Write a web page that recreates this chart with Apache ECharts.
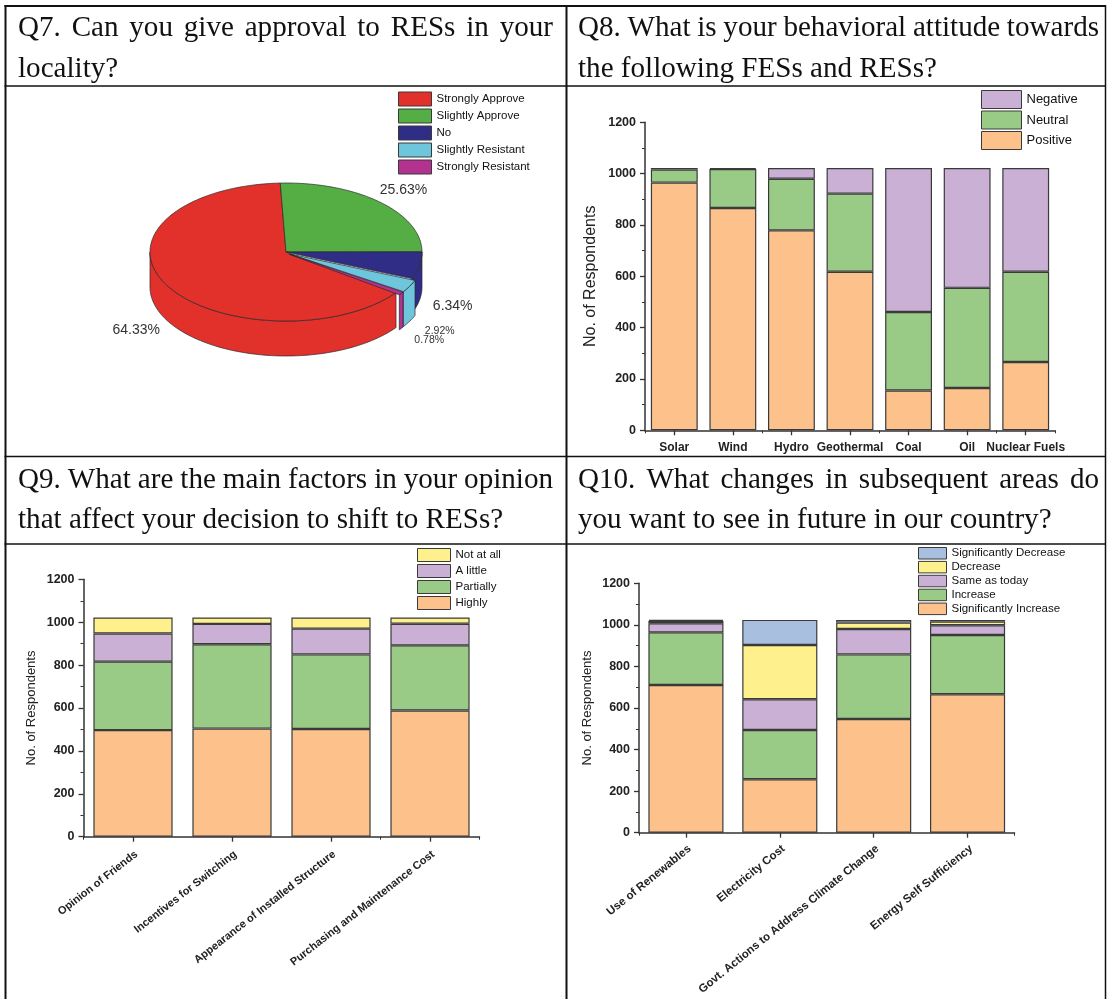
<!DOCTYPE html>
<html>
<head>
<meta charset="utf-8">
<title>Survey responses Q7-Q10</title>
<script src="https://cdn.jsdelivr.net/npm/echarts@6/dist/echarts.min.js"></script>
<style>
  html, body { margin: 0; padding: 0; background: #fff; }
  #c { width: 1107px; height: 999px; }
</style>
</head>
<body>
<div id="c"></div>
<script>
// ---------- question texts (two lines per cell) ----------
const questionLines = [
  ['Q7. Can you give approval to RESs in your', 'locality?'],
  ['Q8. What is your behavioral attitude towards', 'the following FESs and RESs?'],
  ['Q9. What are the main factors in your opinion', 'that affect your decision to shift to RESs?'],
  ['Q10. What changes in subsequent areas do', 'you want to see in future in our country?']
];

// ---------- Q7: approval of RESs (percent) ----------
const approvalNames = ['Strongly Approve', 'Slightly Approve', 'No', 'Slightly Resistant', 'Strongly Resistant'];
const approvalPct = [64.33, 25.63, 6.34, 2.92, 0.78];

// ---------- Q8: attitude towards FESs and RESs ----------
const energySources = ['Solar', 'Wind', 'Hydro', 'Geothermal', 'Coal', 'Oil', 'Nuclear Fuels'];
const attitudePositive = [965, 866, 779, 618, 155, 165, 266];
const attitudeNeutral  = [51, 152, 201, 304, 306, 390, 352];
const attitudeNegative = [6, 4, 42, 100, 561, 467, 404];

// ---------- Q9: factors affecting the decision ----------
const factors = ['Opinion of Friends', 'Incentives for Switching', 'Appearance of Installed Structure', 'Purchasing and Maintenance Cost'];
const factorHighly    = [497, 504, 502, 588];
const factorPartially = [319, 393, 348, 304];
const factorLittle    = [131, 95, 120, 101];
const factorNotAtAll  = [75, 30, 52, 29];

// ---------- Q10: desired changes ----------
const areas = ['Use of Renewables', 'Electricity Cost', 'Govt. Actions to Address Climate Change', 'Energy Self Sufficiency'];
const changeSigIncrease = [711, 257, 547, 666];
const changeIncrease    = [253, 237, 311, 285];
const changeSame        = [44, 148, 122, 47];
const changeDecrease    = [11, 261, 31, 18];
const changeSigDecrease = [5, 121, 13, 8];

// ---------- value axis ----------
const countMin = 0, countMax = 1200, countStep = 200;

// ---------- styling ----------
const FONT = '"Liberation Sans", Arial, Helvetica, sans-serif';
const SERIF = '"Liberation Serif", "Times New Roman", serif';
const INK = '#222';
const EDGE = '#3a3a3a';
const C_ORANGE = '#FDC28C', C_GREEN = '#9ACB86', C_LILAC = '#CAB0D4', C_YELLOW = '#FEF18D', C_BLUE = '#A9BFE0';
const approvalColors = ['#E2302B', '#55AE43', '#2F2D86', '#6EC6DD', '#B3318F'];

const sum = a => a.reduce((s, v) => s + v, 0);

// ---------- table frame and justified question headers ----------
const HEAD_SIZE = 30, HEAD_SX = 0.97;
const measureCtx = document.createElement('canvas').getContext('2d');
measureCtx.font = HEAD_SIZE + 'px ' + SERIF;

function headerLine(text, x0, x1, baseline, justify) {
  const words = text.split(' ');
  const widths = words.map(w => measureCtx.measureText(w).width * HEAD_SX);
  let gap = measureCtx.measureText(' ').width * HEAD_SX;
  if (justify && words.length > 1) gap = (x1 - x0 - sum(widths)) / (words.length - 1);
  const yMid = baseline - HEAD_SIZE * 0.34;
  let x = x0;
  return words.map((w, i) => {
    const el = {
      type: 'text', x: x, y: yMid, scaleX: HEAD_SX, silent: true,
      style: { text: w, fontSize: HEAD_SIZE, fontFamily: SERIF, fill: '#111', align: 'left', verticalAlign: 'middle' }
    };
    x += widths[i] + gap;
    return el;
  });
}

const cells = [
  { x0: 18, x1: 553, b1: 38, b2: 79 },
  { x0: 578, x1: 1099, b1: 38, b2: 79 },
  { x0: 18, x1: 553, b1: 490, b2: 530 },
  { x0: 578, x1: 1099, b1: 490, b2: 530 }
];
const headerEls = [];
questionLines.forEach((lines, i) => {
  const c = cells[i];
  headerEls.push(...headerLine(lines[0], c.x0, c.x1, c.b1, true));
  headerEls.push(...headerLine(lines[1], c.x0, c.x1, c.b2, false));
});

function rule(x1, y1, x2, y2, w) {
  return { type: 'line', silent: true, shape: { x1, y1, x2, y2 }, style: { stroke: '#111', lineWidth: w } };
}
const frameEls = [
  rule(4.5, 6, 1106, 6, 2),
  rule(5.5, 5, 5.5, 999, 2),
  rule(566.5, 5, 566.5, 999, 2),
  rule(1105.5, 5, 1105.5, 999, 1.5),
  rule(4.5, 86, 1106, 86, 1.6),
  rule(4.5, 456.5, 1106, 456.5, 1.6),
  rule(4.5, 544, 1106, 544, 1.6)
];

// ---------- Q7 pseudo-3D pie (custom series, one per slice) ----------
const PIE = { cx: 286, cy: 252, rx: 136, ry: 69, depth: 35, startDeg: 324, pull: 4 };
const pulledSlices = ['Slightly Resistant', 'Strongly Resistant'];
const pctTotal = sum(approvalPct);

function ellipsePt(t, ox, oy, dz) {
  return [PIE.cx + ox + PIE.rx * Math.cos(t), PIE.cy + oy - PIE.ry * Math.sin(t) + dz];
}
function arcPts(ta, tb, ox, oy, dz) {
  const n = Math.max(2, Math.ceil(Math.abs(ta - tb) / (Math.PI / 120)));
  const pts = [];
  for (let k = 0; k <= n; k++) pts.push(ellipsePt(ta + (tb - ta) * k / n, ox, oy, dz));
  return pts;
}
function sliceRenderer(i) {
  return function (params, api) {
    const value = api.value(0);
    const before = sum(approvalPct.slice(0, i));
    const t0 = (PIE.startDeg - before / pctTotal * 360) * Math.PI / 180;
    const t1 = t0 - value / pctTotal * 2 * Math.PI;
    const mid = (t0 + t1) / 2;
    const off = pulledSlices.includes(approvalNames[i]) ? PIE.pull : 0;
    const ox = off * Math.cos(mid), oy = -off * Math.sin(mid);
    const color = api.visual('color');
    const edge = { stroke: '#2a2a2a', lineWidth: 0.7 };
    const children = [];
    // visible front wall (lower half of the ellipse)
    for (let k = -2; k <= 1; k++) {
      const lo = Math.max(t1, -Math.PI + 2 * Math.PI * k);
      const hi = Math.min(t0, 2 * Math.PI * k);
      if (hi - lo > 1e-6) {
        const pts = arcPts(hi, lo, ox, oy, 0).concat(arcPts(lo, hi, ox, oy, PIE.depth));
        children.push({ type: 'polygon', z2: 1, shape: { points: pts }, style: Object.assign({ fill: color }, edge) });
      }
    }
    // top face
    const top = [[PIE.cx + ox, PIE.cy + oy]].concat(arcPts(t0, t1, ox, oy, 0));
    children.push({ type: 'polygon', z2: 2, shape: { points: top }, style: Object.assign({ fill: color }, edge) });
    // percentage label
    const front = Math.sin(mid) < 0;
    const lx = PIE.cx + ox + PIE.rx * 1.25 * Math.cos(mid);
    const ly = PIE.cy + oy - PIE.ry * 1.25 * Math.sin(mid) + (front ? PIE.depth + 2 : 0);
    const small = value < 5;
    children.push({
      type: 'text', z2: 3, x: lx, y: ly,
      style: { text: value.toFixed(2) + '%', fill: '#333', fontFamily: FONT, fontSize: small ? 10.5 : 14, align: 'center', verticalAlign: 'middle' }
    });
    return { type: 'group', children };
  };
}
const pieSeries = approvalNames.map((name, i) => ({
  type: 'custom', name, coordinateSystem: 'none', silent: true,
  renderItem: sliceRenderer(i),
  data: [approvalPct[i]],
  itemStyle: { color: approvalColors[i], borderColor: '#333', borderWidth: 1 }
}));

// ---------- bar charts ----------
function barSeries(name, values, color, axis, stack) {
  return {
    type: 'bar', name, data: values, stack, xAxisIndex: axis.x, yAxisIndex: axis.y,
    barWidth: '80%', silent: true,
    itemStyle: { color, borderColor: EDGE, borderWidth: 1.2 },
    emphasis: { disabled: true }
  };
}
function catAxis(gridIndex, data, labelSize, rotate, margin) {
  return {
    type: 'category', gridIndex, data, position: 'bottom',
    axisLine: { show: true, lineStyle: { color: '#333', width: 1.5 } },
    axisTick: { show: true, alignWithLabel: true, length: 5, lineStyle: { color: '#333', width: 1.3 } },
    axisLabel: Object.assign(
      { interval: 0, rotate, margin, fontFamily: FONT, fontWeight: 'bold', fontSize: labelSize, color: INK },
      rotate ? { verticalAlign: 'top' } : {}
    ),
    splitLine: { show: false }
  };
}
function boundaryAxis(gridIndex, data) {
  return {
    type: 'category', gridIndex, data, position: 'bottom',
    axisLine: { show: false },
    axisTick: { show: true, alignWithLabel: false, length: 3, lineStyle: { color: '#333', width: 1 } },
    axisLabel: { show: false },
    splitLine: { show: false }
  };
}
function countAxis(gridIndex, nameSize, nameGap) {
  return {
    type: 'value', gridIndex, min: countMin, max: countMax, interval: countStep,
    name: 'No. of Respondents', nameLocation: 'middle', nameGap,
    nameTextStyle: { fontFamily: FONT, fontSize: nameSize, color: INK },
    axisLine: { show: true, lineStyle: { color: '#333', width: 1.5 } },
    axisTick: { show: true, length: 5, lineStyle: { color: '#333', width: 1.3 } },
    minorTick: { show: true, splitNumber: 2, length: 3, lineStyle: { color: '#333', width: 1 } },
    splitLine: { show: false },
    axisLabel: { margin: 9, fontFamily: FONT, fontWeight: 'bold', fontSize: 12.5, color: INK, formatter: v => String(v) }
  };
}
function legendBox(data, left, top, w, h, gap, size) {
  return {
    data, left, top, orient: 'vertical', icon: 'rect', padding: 0,
    itemWidth: w, itemHeight: h, itemGap: gap, itemTextGap: 5, selectedMode: false,
    itemStyle: { borderColor: EDGE, borderWidth: 1 },
    textStyle: { fontFamily: FONT, fontSize: size, color: '#111', lineHeight: h }
  };
}

const A8 = { x: 0, y: 0 }, A9 = { x: 2, y: 1 }, A10 = { x: 4, y: 2 };

const option = {
  animation: false,
  backgroundColor: '#fff',
  grid: [
    { left: 645, top: 122.3, width: 410, height: 308 },
    { left: 83.5, top: 579.3, width: 396, height: 257.4 },
    { left: 639, top: 583.3, width: 375.5, height: 249.4 }
  ],
  xAxis: [
    catAxis(0, energySources, 12, 0, 11), boundaryAxis(0, energySources),
    catAxis(1, factors, 11, 38, 12), boundaryAxis(1, factors),
    catAxis(2, areas, 11.5, 39, 10), boundaryAxis(2, areas)
  ],
  yAxis: [
    countAxis(0, 16, 46),
    countAxis(1, 13, 46),
    countAxis(2, 13, 45)
  ],
  legend: [
    legendBox(approvalNames, 398, 91.5, 33, 14, 2, 11.5),
    legendBox(['Negative', 'Neutral', 'Positive'], 981, 90, 40, 18, 1.5, 13),
    legendBox(['Not at all', 'A little', 'Partially', 'Highly'], 417, 548, 33, 13, 2, 11.5),
    legendBox(['Significantly Decrease', 'Decrease', 'Same as today', 'Increase', 'Significantly Increase'], 918, 547, 28, 11.5, 1.4, 11.5)
  ],
  graphic: { elements: frameEls.concat(headerEls) },
  series: pieSeries.concat([
    barSeries('Positive', attitudePositive, C_ORANGE, A8, 'q8'),
    barSeries('Neutral', attitudeNeutral, C_GREEN, A8, 'q8'),
    barSeries('Negative', attitudeNegative, C_LILAC, A8, 'q8'),

    barSeries('Highly', factorHighly, C_ORANGE, A9, 'q9'),
    barSeries('Partially', factorPartially, C_GREEN, A9, 'q9'),
    barSeries('A little', factorLittle, C_LILAC, A9, 'q9'),
    barSeries('Not at all', factorNotAtAll, C_YELLOW, A9, 'q9'),

    barSeries('Significantly Increase', changeSigIncrease, C_ORANGE, A10, 'q10'),
    barSeries('Increase', changeIncrease, C_GREEN, A10, 'q10'),
    barSeries('Same as today', changeSame, C_LILAC, A10, 'q10'),
    barSeries('Decrease', changeDecrease, C_YELLOW, A10, 'q10'),
    barSeries('Significantly Decrease', changeSigDecrease, C_BLUE, A10, 'q10')
  ])
};

const chart = echarts.init(document.getElementById('c'), null, { renderer: 'canvas' });
chart.setOption(option);
</script>
</body>
</html>
